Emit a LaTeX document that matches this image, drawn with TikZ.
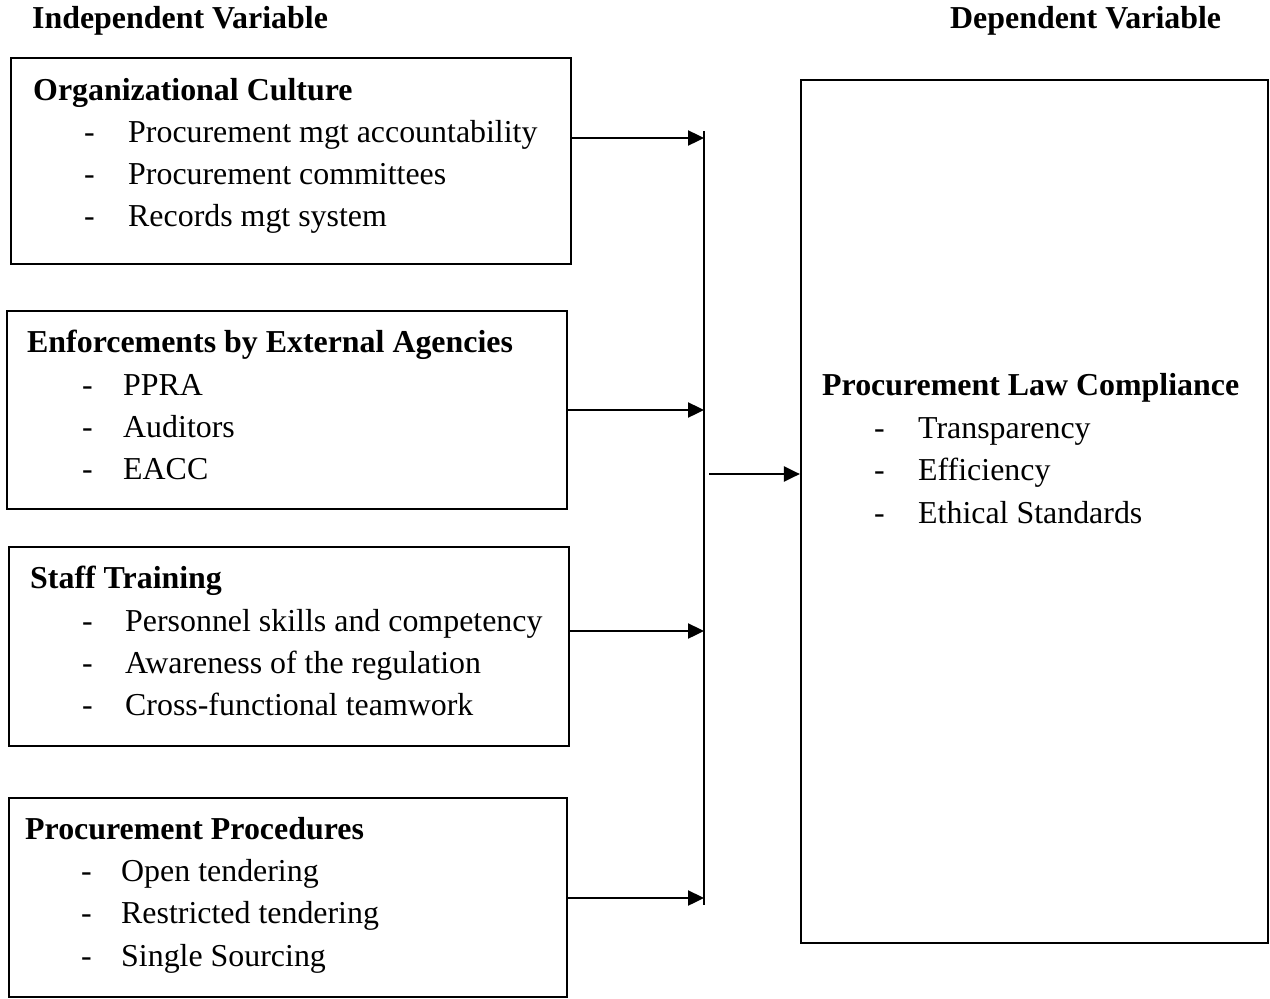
\documentclass[tikz,border=0pt]{standalone}
\usepackage{fontspec}
\setmainfont{Liberation Serif}
\usetikzlibrary{arrows.meta}
\begin{document}
\begin{tikzpicture}[x=1pt,y=-1pt,
  txt/.style={anchor=base west, inner sep=0pt, font=\fontsize{31.9}{36}\selectfont},
  ttl/.style={anchor=base west, inner sep=0pt, font=\fontsize{31.9}{36}\selectfont\bfseries},
  box/.style={draw, line width=2.2pt, inner sep=0pt, rectangle},
  conn/.style={line width=2.4pt},
  arr/.style={line width=2.4pt, -{Triangle[length=16pt,width=15pt]}}]
\useasboundingbox (0,0) rectangle (1270,999);

% headers
\node[ttl] (hiv) at (32,28) {Independent Variable};
\node[ttl] (hdv) at (950,28) {Dependent Variable};

% boxes
\node[box, minimum width=560pt, minimum height=206pt] (b1) at (291,161) {};
\node[box, minimum width=560pt, minimum height=198pt] (b2) at (287,410) {};
\node[box, minimum width=560pt, minimum height=199pt] (b3) at (289,646.5) {};
\node[box, minimum width=558pt, minimum height=199pt] (b4) at (288,897.5) {};
\node[box, minimum width=467pt, minimum height=863pt] (dv) at (1034.5,511.5) {};

% box 1
\node[ttl] (t1) at (33,100) {Organizational Culture};
\node[txt] (d11) at (84,142) {-};
\node[txt] (i11) at (128,142) {Procurement mgt accountability};
\node[txt] (d12) at (84,184) {-};
\node[txt] (i12) at (128,184) {Procurement committees};
\node[txt] (d13) at (84,226) {-};
\node[txt] (i13) at (128,226) {Records mgt system};

% box 2
\node[ttl] (t2) at (27,352) {Enforcements by External Agencies};
\node[txt] (d21) at (82,395) {-};
\node[txt] (i21) at (123,395) {PPRA};
\node[txt] (d22) at (82,437) {-};
\node[txt] (i22) at (123,437) {Auditors};
\node[txt] (d23) at (82,479) {-};
\node[txt] (i23) at (123,479) {EACC};

% box 3
\node[ttl] (t3) at (30,588) {Staff Training};
\node[txt] (d31) at (82,631) {-};
\node[txt] (i31) at (125,631) {Personnel skills and competency};
\node[txt] (d32) at (82,673) {-};
\node[txt] (i32) at (125,673) {Awareness of the regulation};
\node[txt] (d33) at (82,715) {-};
\node[txt] (i33) at (125,715) {Cross-functional teamwork};

% box 4
\node[ttl] (t4) at (25,839) {Procurement Procedures};
\node[txt] (d41) at (81,881) {-};
\node[txt] (i41) at (121,881) {Open tendering};
\node[txt] (d42) at (81,923) {-};
\node[txt] (i42) at (121,923) {Restricted tendering};
\node[txt] (d43) at (81,966) {-};
\node[txt] (i43) at (121,966) {Single Sourcing};

% dependent box
\node[ttl] (t5) at (822,395) {Procurement Law Compliance};
\node[txt] (d51) at (874,438) {-};
\node[txt] (i51) at (918,438) {Transparency};
\node[txt] (d52) at (874,480) {-};
\node[txt] (i52) at (918,480) {Efficiency};
\node[txt] (d53) at (874,523) {-};
\node[txt] (i53) at (918,523) {Ethical Standards};

% bus
\coordinate (bustop) at (704,131);
\coordinate (busbot) at (704,905);
\coordinate (j1) at (704,138);
\coordinate (j2) at (704,410);
\coordinate (j3) at (704,631);
\coordinate (j4) at (704,898);
\coordinate (jout) at (709,474);
\draw[conn] (bustop) -- (busbot);

\draw[arr] (b1.east |- j1) -- (j1);
\draw[arr] (b2.east |- j2) -- (j2);
\draw[arr] (b3.east |- j3) -- (j3);
\draw[arr] (b4.east |- j4) -- (j4);
\draw[arr] (jout) -- (dv.west |- jout);
\end{tikzpicture}
\end{document}
